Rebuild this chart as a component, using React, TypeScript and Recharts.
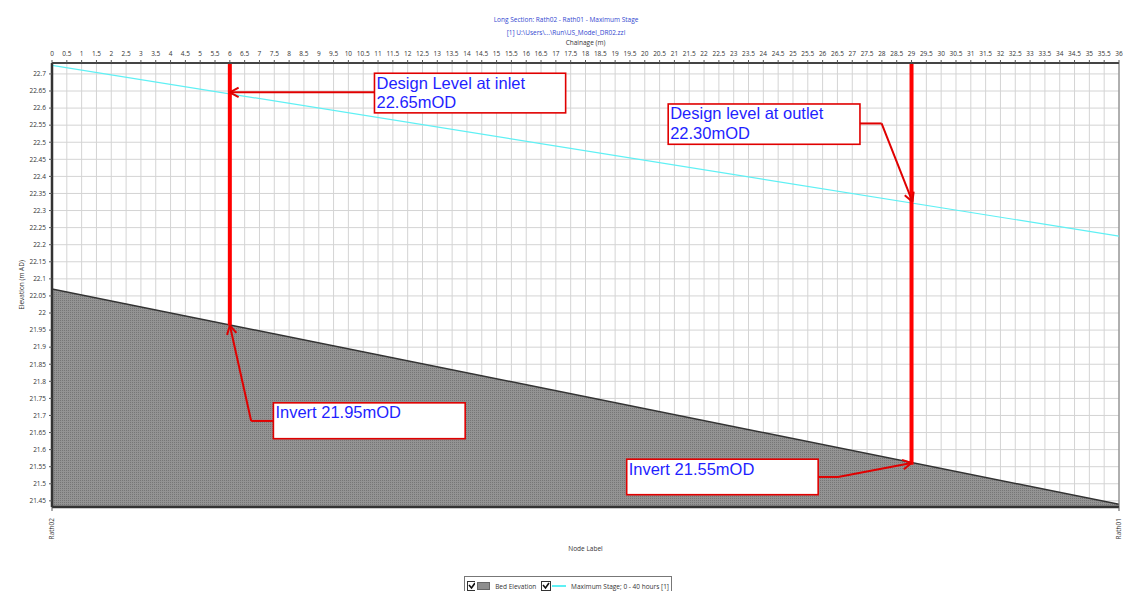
import React from 'react';
import {
  ComposedChart, Area, Line, XAxis, YAxis, CartesianGrid, ReferenceLine, ReferenceArea,
} from 'recharts';

// chainage (m) of the two nodes and the levels read there
const chainage = [0, 36];
const bedElevation = [22.07, 21.44];
const maxStage = [22.725, 22.225];
const nodeLabels = ['Rath02', 'Rath01'];

const chainageTicks = [
  0, 0.5, 1, 1.5, 2, 2.5, 3, 3.5, 4, 4.5, 5, 5.5, 6, 6.5, 7, 7.5, 8, 8.5, 9, 9.5,
  10, 10.5, 11, 11.5, 12, 12.5, 13, 13.5, 14, 14.5, 15, 15.5, 16, 16.5, 17, 17.5,
  18, 18.5, 19, 19.5, 20, 20.5, 21, 21.5, 22, 22.5, 23, 23.5, 24, 24.5, 25, 25.5,
  26, 26.5, 27, 27.5, 28, 28.5, 29, 29.5, 30, 30.5, 31, 31.5, 32, 32.5, 33, 33.5,
  34, 34.5, 35, 35.5, 36,
];
const elevationTicks = [
  21.45, 21.5, 21.55, 21.6, 21.65, 21.7, 21.75, 21.8, 21.85, 21.9, 21.95, 22,
  22.05, 22.1, 22.15, 22.2, 22.25, 22.3, 22.35, 22.4, 22.45, 22.5, 22.55, 22.6,
  22.65, 22.7,
];
const yDomain = [21.432, 22.732];

// hand-drawn markup on the section (chainage, elevation)
const markers = [
  { x: 6, y: 21.964 },
  { x: 29, y: 21.556 },
];
const callouts = [
  { lines: ['Design Level at inlet', '22.65mOD'], x1: 10.88, x2: 17.33, y1: 22.586, y2: 22.702 },
  { lines: ['Design level at outlet', '22.30mOD'], x1: 20.79, x2: 27.26, y1: 22.494, y2: 22.612 },
  { lines: ['Invert 21.95mOD'], x1: 7.47, x2: 13.94, y1: 21.632, y2: 21.737 },
  { lines: ['Invert 21.55mOD'], x1: 19.39, x2: 25.85, y1: 21.468, y2: 21.572 },
];
const leaders = [
  [[10.88, 22.646], [6.0, 22.646]],
  [[27.26, 22.555], [27.99, 22.555], [29.03, 22.326]],
  [[7.47, 21.684], [6.72, 21.684], [6.0, 21.964]],
  [[25.85, 21.52], [26.52, 21.52], [29.0, 21.561]],
];

const data = chainage.map((c, i) => ({ chainage: c, bed: bedElevation[i], stage: maxStage[i] }));

const tickFont = { fontSize: 6.5, fill: '#333', fontFamily: 'Open Sans' };
const RED = '#e00000';

const ArrowLine = (head: boolean) => (p: any) => {
  const { x1, y1, x2, y2 } = p;
  const a = Math.atan2(y2 - y1, x2 - x1);
  const len = 10, spread = 0.5;
  return (
    <g>
      <line x1={x1} y1={y1} x2={x2} y2={y2} stroke={RED} strokeWidth={2} />
      {head && (
        <>
          <line x1={x2} y1={y2} x2={x2 - len * Math.cos(a - spread)} y2={y2 - len * Math.sin(a - spread)} stroke={RED} strokeWidth={2} />
          <line x1={x2} y1={y2} x2={x2 - len * Math.cos(a + spread)} y2={y2 - len * Math.sin(a + spread)} stroke={RED} strokeWidth={2} />
        </>
      )}
    </g>
  );
};

const CalloutBox = (lines: string[]) => (p: any) => {
  const { x, y, width, height } = p;
  return (
    <g>
      <rect x={x} y={y} width={width} height={height} fill="#fff" stroke={RED} strokeWidth={1.6} />
      {lines.map((t, i) => (
        <text key={i} x={x + 2} y={y + 15.5 + i * 19.4} fill="#1f1fff" fontSize={16.5} fontFamily="Liberation Sans">
          {t}
        </text>
      ))}
    </g>
  );
};

const NodeTick = (p: any) => {
  const { x, y, payload } = p;
  const idx = chainage.indexOf(payload.value);
  return (
    <g transform={`translate(${x},${y})`}>
      <text transform="rotate(-90)" textAnchor="end" dy="0.35em" x={-5} fontSize={6.5} fill="#333" fontFamily="Open Sans">
        {nodeLabels[idx]}
      </text>
    </g>
  );
};

const CheckBox = () => (
  <svg width={10} height={10} style={{ display: 'block' }}>
    <rect x={0.5} y={0.5} width={9} height={9} fill="#fff" stroke="#333" />
    <path d="M2 4 L4.5 7 L8 2" fill="none" stroke="#111" strokeWidth={1.6} />
  </svg>
);

export default function App() {
  return (
    <div style={{ position: 'absolute', left: 0, top: 0, width: 1123, height: 591, background: '#fff', overflow: 'hidden', fontFamily: 'Open Sans' }}>
      <div style={{ position: 'absolute', left: 0, width: 1132, top: 13, textAlign: 'center', fontSize: 6.5, color: '#3348d0', lineHeight: '13px' }}>
        <div>Long Section: Rath02 - Rath01 - Maximum Stage</div>
        <div>[1] U:\Users\...\Run\US_Model_DR02.zzl</div>
      </div>
      <div style={{ position: 'absolute', left: 52, width: 1067, top: 38, textAlign: 'center', fontSize: 6.5, color: '#333' }}>
        Chainage (m)
      </div>

      <ComposedChart width={1123} height={591} data={data} margin={{ top: 40, right: 4, bottom: 34, left: 0 }}>
        <defs>
          <pattern id="bedHatch" width={2} height={2} patternUnits="userSpaceOnUse">
            <rect width={2} height={2} fill="#939393" />
            <rect width={1} height={1} fill="#767676" />
          </pattern>
        </defs>
        <CartesianGrid stroke="#d4d4d4" strokeWidth={1} />
        <XAxis
          dataKey="chainage" type="number" orientation="top" domain={[0, 36]} ticks={chainageTicks}
          interval={0} height={23} tick={tickFont} tickSize={3} tickMargin={4}
          tickLine={{ stroke: '#555' }} axisLine={{ stroke: '#444', strokeWidth: 2 }} allowDataOverflow
        />
        <XAxis
          xAxisId="node" dataKey="chainage" type="number" orientation="bottom" domain={[0, 36]} ticks={chainage}
          interval={0} height={50} tick={<NodeTick />} tickSize={4} tickLine={{ stroke: '#555' }}
          axisLine={{ stroke: '#333', strokeWidth: 2.5 }}
          label={{ value: 'Node Label', position: 'insideBottom', offset: 6, fontSize: 6.5, fill: '#333' }}
        />
        <YAxis
          type="number" domain={yDomain} ticks={elevationTicks} interval={0} width={52} tick={tickFont}
          tickSize={3} tickMargin={3} tickLine={{ stroke: '#555' }} axisLine={{ stroke: '#333', strokeWidth: 2.5 }}
          allowDataOverflow
          label={{ value: 'Elevation (m AD)', angle: -90, position: 'insideLeft', offset: 22, fontSize: 6.5, fill: '#333', style: { textAnchor: 'middle' } }}
        />
        <ReferenceLine x={36} stroke="#777" strokeWidth={1} />
        <Area
          type="linear" dataKey="bed" name="Bed Elevation" fill="url(#bedHatch)" fillOpacity={1}
          stroke="#333" strokeWidth={1.5} isAnimationActive={false}
        />
        <Line
          type="linear" dataKey="stage" name="Maximum Stage; 0 - 40 hours [1]" stroke="#5ff0f4"
          strokeWidth={1.2} dot={false} isAnimationActive={false}
        />
        {markers.map((m, i) => (
          <ReferenceLine
            key={`m${i}`}
            segment={[{ x: m.x, y: yDomain[1] }, { x: m.x, y: m.y }]}
            stroke="#ff0000" strokeWidth={4}
          />
        ))}
        {leaders.map((pts, i) =>
          pts.slice(1).map((pt, j) => (
            <ReferenceLine
              key={`l${i}-${j}`}
              segment={[{ x: pts[j][0], y: pts[j][1] }, { x: pt[0], y: pt[1] }]}
              shape={ArrowLine(j === pts.length - 2)}
            />
          )),
        )}
        {callouts.map((c, i) => (
          <ReferenceArea key={`c${i}`} x1={c.x1} x2={c.x2} y1={c.y1} y2={c.y2} shape={CalloutBox(c.lines)} />
        ))}
      </ComposedChart>

      <div style={{ position: 'absolute', left: 464, top: 576, width: 208, height: 20, border: '1px solid #777', boxSizing: 'border-box', display: 'flex', alignItems: 'center', padding: '0 2px', gap: 0, fontSize: 6.5, color: '#333', whiteSpace: 'nowrap' }}>
        <CheckBox />
        <div style={{ width: 17, height: 8, background: '#8e8e8e', border: '1px solid #666', marginLeft: 2, boxSizing: 'border-box' }} />
        <span style={{ marginLeft: 5 }}>Bed Elevation</span>
        <div style={{ marginLeft: 5 }}><CheckBox /></div>
        <div style={{ width: 18, height: 1.5, background: '#5ff0f4', marginLeft: 1 }} />
        <span style={{ marginLeft: 5 }}>Maximum Stage; 0 - 40 hours [1]</span>
      </div>
    </div>
  );
}
